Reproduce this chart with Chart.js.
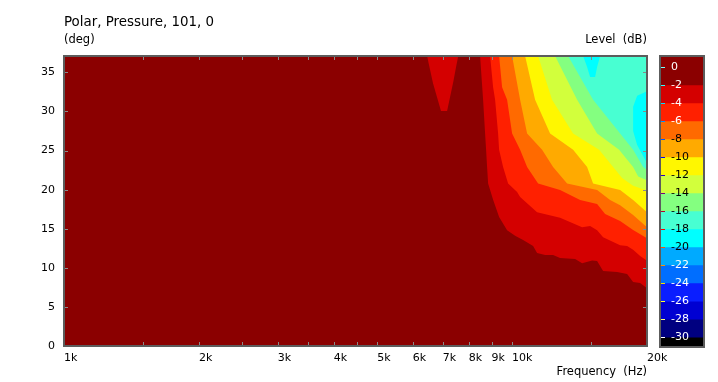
<!DOCTYPE html>
<html>
<head>
<meta charset="utf-8">
<title>Polar, Pressure, 101, 0</title>
<script src="https://cdn.jsdelivr.net/npm/chart.js@4"></script>
<style>
  body { margin: 0; background: #fff; font-family: 'DejaVu Sans', sans-serif; color: #000; }
  .wrap { position: relative; width: 718px; height: 382px; overflow: hidden; }
  canvas { position: absolute; left: 0; top: 0; }
  .txt { position: absolute; font-size: 11.5px; line-height: 11px; white-space: pre; }
</style>
</head>
<body>
<div class="wrap">
  <canvas id="polarChart" width="718" height="382"></canvas>
  <canvas id="scaleChart" width="718" height="382"></canvas>
  <div class="txt" style="left:64px;top:15px;font-size:13.4px;line-height:13px">Polar, Pressure, 101, 0</div>
  <div class="txt" style="left:64px;top:34px">(deg)</div>
  <div class="txt" style="right:71px;top:34px">Level  (dB)</div>
  <div class="txt" style="right:71px;top:366px">Frequency  (Hz)</div>
</div>
<script>
  // axes
  const freqTicks  = [1000, 1500, 2000, 2500, 3000, 3500, 4000, 4500, 5000, 6000, 7000, 8000, 9000, 10000, 15000, 20000];
  const freqLabels = ['1k', '', '2k', '', '3k', '', '4k', '', '5k', '6k', '7k', '8k', '9k', '10k', '', '20k'];
  const degTicks = [0, 5, 10, 15, 20, 25, 30, 35];
  const degMax = 37.1;

  // colour scale (dB)
  const levelTicks = [0, -2, -4, -6, -8, -10, -12, -14, -16, -18, -20, -22, -24, -26, -28, -30];
  const levelTop = 1.2;
  const bandLow = [-2, -4, -6, -8, -10, -12, -14, -16, -18, -20, -22, -24, -26, -28, -30, -31.1];
  const bandColors = ['#8B0000', '#D40000', '#FF2000', '#FF6A00', '#FFAA00', '#FFF700', '#D2FF3C', '#84FF80',
                      '#48FFD2', '#00FFFF', '#00AAFF', '#006EFF', '#0A1EFF', '#0000D2', '#000080', '#000000'];

  // contour edges [Hz, deg]: level is below the value on the upper/right side
  const edge2  = [[8483,37.1],[8615,31.5],[8704,27.2],[8749,25.1],[8794,22.9],[8840,20.8],[9070,18.7],[9354,16.5],[9746,14.8],[10155,14.1],[10581,13.55],[11140,12.8],[11370,11.9],[11850,11.64],[12344,11.64],[12796,11.25],[13826,11.13],[14330,10.6],[15085,10.95],[15477,10.87],[15962,9.6],[17154,9.46],[18059,9.21],[18623,8.18],[19307,8.06],[20000,7.4]];
  const notch2 = [[6460,37.1],[6660,33.6],[6940,30.05],[7160,30.05],[7380,33.6],[7580,37.1]];
  const edge4  = [[8931,37.1],[9070,33.1],[9164,31.5],[9306,27.2],[9354,25.1],[9548,22.9],[9797,20.8],[10260,19.7],[10420,19.05],[11370,17.1],[12796,16.4],[14330,15.2],[14931,15.35],[15477,14.8],[15962,13.9],[17420,12.9],[18059,12.8],[18623,12.3],[19307,11.5],[20000,10.9]];
  const edge6  = [[9354,37.1],[9499,33.1],[9746,31.5],[10000,27.2],[10420,25.1],[10801,22.9],[11429,20.8],[12796,19.95],[14184,18.67],[15477,18.16],[16127,16.88],[17420,15.98],[18623,14.83],[20000,13.8]];
  const edge8  = [[10000,37.1],[10420,31.5],[10801,27.2],[11667,25.1],[12344,22.9],[13265,20.8],[15477,19.95],[16546,18.67],[17420,18.0],[18623,16.75],[20000,15.2]];
  const edge10 = [[10691,37.1],[11254,31.5],[12155,27.2],[13682,25.1],[14702,22.9],[15162,20.8],[17420,19.95],[18623,18.67],[20000,17.1]];
  const edge12 = [[11429,37.1],[12280,31.5],[13682,27.2],[15637,25.1],[16804,22.9],[17600,21.5],[18623,20.5],[20000,19.9]];
  const edge14 = [[12471,37.1],[13966,31.5],[15477,27.2],[17331,25.1],[18623,22.9],[19112,21.7],[20000,21.2]];
  const edge16 = [[13335,37.1],[15162,31.5],[17420,27.2],[18623,25.1],[19607,22.9],[20000,22.5]];
  const notch18  = [[14404,37.1],[14702,35.7],[14931,34.4],[15319,34.4],[15477,35.7],[15718,37.1]];
  const island18 = [[20000,32.6],[19014,32.0],[18623,30.6],[18623,27.5],[19014,25.7],[19607,24.3],[20000,23.4]];

  const contours = [
    {level: -2, pts: edge2}, {level: -2, pts: notch2},
    {level: -4, pts: edge4}, {level: -6, pts: edge6}, {level: -8, pts: edge8},
    {level: -10, pts: edge10}, {level: -12, pts: edge12}, {level: -14, pts: edge14},
    {level: -16, pts: edge16}, {level: -18, pts: notch18}, {level: -18, pts: island18, closed: true}
  ];

  Chart.defaults.font.family = "'DejaVu Sans', sans-serif";
  Chart.defaults.font.size = 11;
  Chart.defaults.color = '#000';

  // background field (0 .. -2 dB) first, then each lower level on top
  const layers = [{pts: [[1000, 0], [20000, 0]], color: bandColors[0], fill: 'end'}];
  contours.forEach(c => layers.push({pts: c.pts, color: bandColors[-c.level / 2], fill: c.closed ? 'shape' : 'end'}));

  const datasets = layers.map((l, i) => ({
    data: l.pts.map(p => ({x: p[0], y: p[1]})),
    backgroundColor: l.color,
    borderColor: 'rgba(0,0,0,0)',
    borderWidth: 0,
    pointRadius: 0,
    tension: 0,
    fill: l.fill,
    order: layers.length - i
  }));

  // inward tick marks + frame
  const frameTicks = {
    id: 'frameTicks',
    afterDraw(chart) {
      const {ctx, chartArea: a, scales: {x, y}} = chart;
      ctx.save();
      ctx.strokeStyle = '#8a8a8a';
      ctx.lineWidth = 1;
      ctx.beginPath();
      freqTicks.forEach(v => {
        const px = Math.round(x.getPixelForValue(v)) + 0.5;
        ctx.moveTo(px, a.top); ctx.lineTo(px, a.top + 4);
        ctx.moveTo(px, a.bottom); ctx.lineTo(px, a.bottom - 4);
      });
      degTicks.forEach(v => {
        const py = Math.round(y.getPixelForValue(v)) + 0.5;
        ctx.moveTo(a.left, py); ctx.lineTo(a.left + 4, py);
        ctx.moveTo(a.right, py); ctx.lineTo(a.right - 4, py);
      });
      ctx.stroke();
      ctx.strokeStyle = '#5c5c5c';
      ctx.lineWidth = 2;
      ctx.strokeRect(a.left, a.top, a.right - a.left, a.bottom - a.top);
      ctx.restore();
    }
  };

  new Chart(document.getElementById('polarChart'), {
    type: 'line',
    data: {datasets: datasets},
    options: {
      responsive: false,
      animation: false,
      events: [],
      layout: {padding: {left: 0, top: 56, right: 71, bottom: 0}},
      plugins: {legend: {display: false}, tooltip: {enabled: false}},
      scales: {
        x: {
          type: 'logarithmic',
          min: 1000,
          max: 20000,
          afterBuildTicks: s => { s.ticks = freqTicks.map(v => ({value: v})); },
          afterFit: s => { s.height = 36; },
          grid: {display: false, drawTicks: false},
          border: {display: false},
          ticks: {autoSkip: false, maxRotation: 0, align: 'start', padding: 6,
                  callback: (v, i) => freqLabels[i]}
        },
        y: {
          min: 0,
          max: degMax,
          afterBuildTicks: s => { s.ticks = degTicks.map(v => ({value: v})); },
          afterFit: s => { s.width = 64; },
          grid: {display: false, drawTicks: false},
          border: {display: false},
          ticks: {padding: 9, callback: v => String(v)}
        }
      }
    },
    plugins: [frameTicks]
  });

  // colour bar
  function invert(hex) {
    const n = parseInt(hex.slice(1), 16);
    return 'rgb(' + (255 - (n >> 16)) + ',' + (255 - ((n >> 8) & 255)) + ',' + (255 - (n & 255)) + ')';
  }
  function labelColor(v) {
    return (v >= -6 || v <= -22) ? '#fff' : '#000';
  }

  const barFrame = {
    id: 'barFrame',
    afterDraw(chart) {
      const {ctx, chartArea: a, scales: {y}} = chart;
      ctx.save();
      ctx.lineWidth = 1;
      levelTicks.forEach((v, i) => {
        const py = Math.round(y.getPixelForValue(v)) + 0.5;
        ctx.strokeStyle = invert(bandColors[Math.min(i, bandColors.length - 1)]);
        ctx.beginPath();
        ctx.moveTo(a.left + 1, py); ctx.lineTo(a.left + 5, py);
        ctx.stroke();
      });
      ctx.strokeStyle = '#5c5c5c';
      ctx.lineWidth = 2;
      ctx.strokeRect(a.left, a.top, a.right - a.left, a.bottom - a.top);
      ctx.restore();
    }
  };

  new Chart(document.getElementById('scaleChart'), {
    type: 'bar',
    data: {
      labels: ['Level'],
      datasets: bandLow.map((lo, i) => ({
        data: [[lo, levelTop]],
        backgroundColor: bandColors[i],
        borderWidth: 0,
        grouped: false,
        barPercentage: 1,
        categoryPercentage: 1
      }))
    },
    options: {
      responsive: false,
      animation: false,
      events: [],
      layout: {padding: {left: 660, top: 56, right: 14, bottom: 35}},
      plugins: {legend: {display: false}, tooltip: {enabled: false}},
      scales: {
        x: {display: false},
        y: {
          min: bandLow[bandLow.length - 1],
          max: levelTop,
          afterBuildTicks: s => { s.ticks = levelTicks.map(v => ({value: v})); },
          afterFit: s => { s.width = 0; },
          grid: {display: false, drawTicks: false},
          border: {display: false},
          ticks: {z: 1, mirror: true, padding: 11, color: c => labelColor(c.tick.value), callback: v => String(v)}
        }
      }
    },
    plugins: [barFrame]
  });
</script>
</body>
</html>
